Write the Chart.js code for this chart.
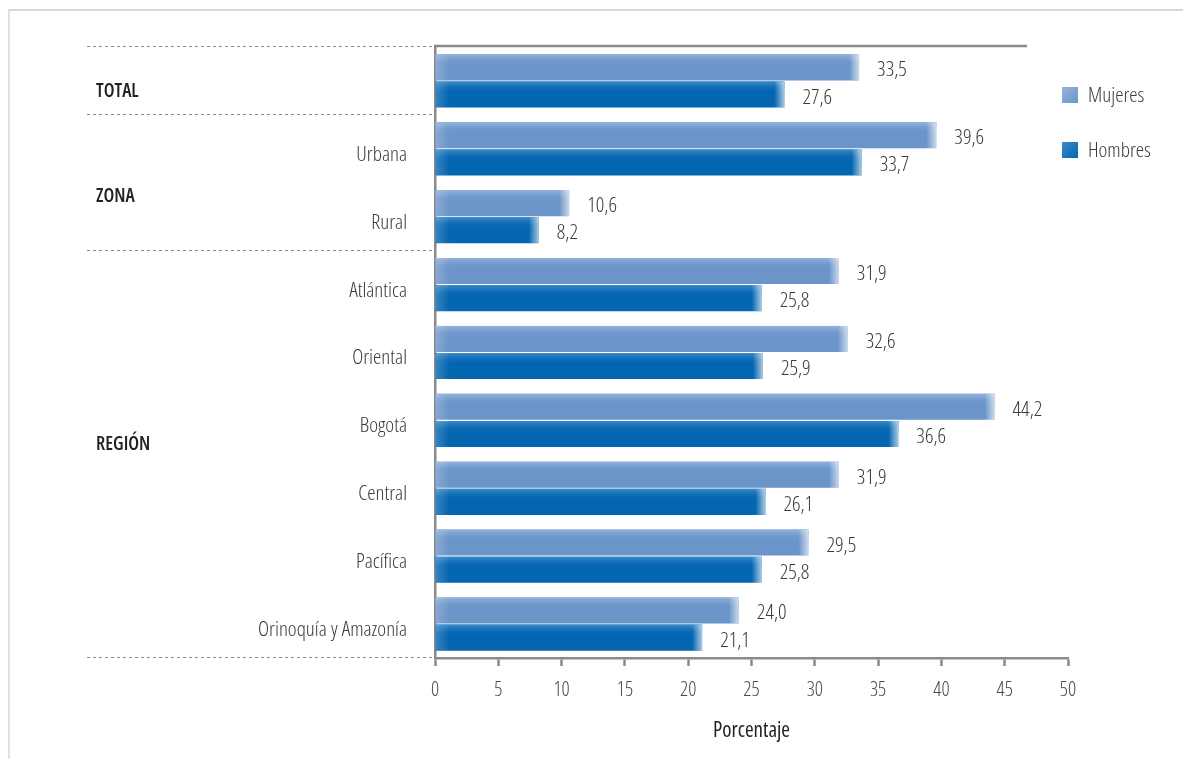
<!DOCTYPE html>
<html lang="es">
<head>
<meta charset="utf-8">
<title>Porcentaje por zona y región</title>
<script src="https://cdn.jsdelivr.net/npm/chart.js@4.4.1/dist/chart.umd.min.js"></script>
<style>
  html, body { margin: 0; padding: 0; background: #fff; }
  #wrap { position: relative; width: 1183px; height: 759px; overflow: hidden; }
  #frame { position: absolute; left: 8px; top: 9px; right: 0; bottom: 0;
           border-left: 2px solid #e2e2e2; border-top: 2px solid #d8d8d8; }
  #chart { position: absolute; left: 0; top: 0; }
</style>
</head>
<body>
<div id="wrap">
  <div id="frame"></div>
  <canvas id="chart" width="1183" height="759"></canvas>
</div>
<script>
// Chart data
const categories = ['TOTAL', 'Urbana', 'Rural', 'Atlántica', 'Oriental', 'Bogotá', 'Central', 'Pacífica', 'Orinoquía y Amazonía'];
const mujeres = [33.5, 39.6, 10.6, 31.9, 32.6, 44.2, 31.9, 29.5, 24.0];
const hombres = [27.6, 33.7, 8.2, 25.8, 25.9, 36.6, 26.1, 25.8, 21.1];
const xTicks = [0, 5, 10, 15, 20, 25, 30, 35, 40, 45, 50];
const seriesNames = ['Mujeres', 'Hombres'];

// Group labels on the left, with the category index they sit at
const groupNames = ['TOTAL', 'ZONA', 'REGIÓN'];
const groupAt = [0.15, 1.7, 5.35];
// Dashed separators sit after these category indexes
const separatorsAfter = [-1, 0, 2, 8];

// Condensed look: 'condensed' goes into the font shorthand through the weight slot
const FONT = "'Open Sans', 'Roboto', sans-serif";
const LIGHT = '300 condensed';
const axisGray = '#8a8a8a';
const textGray = '#3a3a3a';

const colors = {
  mujeres: { body: '#6b94c8', top: '#93b3dd' },
  hombres: { body: '#0465b0', top: '#3b8bca' }
};

const fmt = v => v.toFixed(1).replace('.', ',');

// Shading on each bar: lighter top edge and a pale right tip
const barShading = {
  id: 'barShading',
  afterDatasetsDraw(chart) {
    const ctx = chart.ctx;
    chart.data.datasets.forEach((ds, di) => {
      const meta = chart.getDatasetMeta(di);
      const c = di === 0 ? colors.mujeres : colors.hombres;
      meta.data.forEach(el => {
        const { x, y, base, height } = el.getProps(['x', 'y', 'base', 'height'], true);
        const top = y - height / 2;
        ctx.save();
        const vg = ctx.createLinearGradient(0, top, 0, top + height * 0.45);
        vg.addColorStop(0, c.top);
        vg.addColorStop(1, c.body + '00');
        ctx.fillStyle = vg;
        ctx.fillRect(base, top, x - base, height * 0.45);

        const tip = Math.min(10, x - base);
        const hg = ctx.createLinearGradient(x - tip, 0, x, 0);
        hg.addColorStop(0, 'rgba(255,255,255,0)');
        hg.addColorStop(1, 'rgba(255,255,255,0.65)');
        ctx.fillStyle = hg;
        ctx.fillRect(x - tip, top, tip, height);

        const lg = ctx.createLinearGradient(base, 0, base + 14, 0);
        lg.addColorStop(0, 'rgba(255,255,255,0.2)');
        lg.addColorStop(1, 'rgba(255,255,255,0)');
        ctx.fillStyle = lg;
        ctx.fillRect(base, top, 14, height);
        ctx.restore();
      });
    });
  }
};

// Values, separators, group labels, top line and legend
const decorations = {
  id: 'decorations',
  afterDraw(chart) {
    const ctx = chart.ctx;
    const yScale = chart.scales.y;
    const area = chart.chartArea;
    const slot = (area.bottom - area.top) / categories.length;

    ctx.save();
    // value labels
    ctx.font = `${LIGHT} 21px ${FONT}`;
    ctx.fillStyle = textGray;
    ctx.textAlign = 'left';
    ctx.textBaseline = 'middle';
    chart.data.datasets.forEach((ds, di) => {
      chart.getDatasetMeta(di).data.forEach((el, i) => {
        ctx.fillText(fmt(ds.data[i]), el.x + 18, el.y + 3);
      });
    });

    // dashed separators
    ctx.strokeStyle = '#8c8c8c';
    ctx.lineWidth = 1;
    ctx.setLineDash([3, 3]);
    separatorsAfter.forEach(i => {
      const yy = Math.round(yScale.getPixelForValue(i) + slot / 2) - 0.5;
      ctx.beginPath();
      ctx.moveTo(87, yy);
      ctx.lineTo(area.left - 3, yy);
      ctx.stroke();
    });
    ctx.setLineDash([]);

    // top frame line
    ctx.strokeStyle = axisGray;
    ctx.lineWidth = 2.5;
    ctx.beginPath();
    ctx.moveTo(area.left - 1, area.top - 1);
    ctx.lineTo(1027, area.top - 1);
    ctx.stroke();

    // group labels
    ctx.font = `600 condensed 19px ${FONT}`;
    ctx.fillStyle = '#222';
    groupNames.forEach((g, i) => {
      ctx.fillText(g, 96, yScale.getPixelForValue(groupAt[i]));
    });

    // legend
    const legendY = [95, 150];
    seriesNames.forEach((name, i) => {
      const c = i === 0 ? colors.mujeres : colors.hombres;
      const sx = 1062, sy = legendY[i] - 8;
      const g = ctx.createLinearGradient(sx, sy, sx + 16, sy + 16);
      g.addColorStop(0, c.top);
      g.addColorStop(1, c.body);
      ctx.fillStyle = g;
      ctx.fillRect(sx, sy, 16, 16);
      ctx.font = `${LIGHT} 21px ${FONT}`;
      ctx.fillStyle = textGray;
      ctx.fillText(name, 1088, legendY[i] + 1);
    });
    ctx.restore();
  }
};

document.addEventListener('DOMContentLoaded', () => {
  const ctx = document.getElementById('chart').getContext('2d');

  new Chart(ctx, {
    type: 'bar',
    data: {
      labels: categories,
      datasets: [
        {
          label: seriesNames[0],
          data: mujeres,
          backgroundColor: colors.mujeres.body,
          borderWidth: 0,
          categoryPercentage: 0.8,
          barPercentage: 0.96
        },
        {
          label: seriesNames[1],
          data: hombres,
          backgroundColor: colors.hombres.body,
          borderWidth: 0,
          categoryPercentage: 0.8,
          barPercentage: 0.96
        }
      ]
    },
    options: {
      indexAxis: 'y',
      responsive: false,
      animation: false,
      layout: { padding: { top: 47, right: 115, bottom: 0, left: 0 } },
      plugins: {
        legend: { display: false },
        tooltip: { enabled: false }
      },
      scales: {
        x: {
          min: 0,
          max: 50,
          afterBuildTicks: scale => { scale.ticks = xTicks.map(v => ({ value: v })); },
          afterFit: scale => { scale.height = 101; },
          grid: {
            drawOnChartArea: false,
            drawTicks: true,
            tickLength: 8,
            tickColor: axisGray,
            tickWidth: 2.5
          },
          border: { display: true, color: axisGray, width: 2.5 },
          ticks: {
            color: '#4a4a4a',
            padding: 12,
            maxRotation: 0,
            font: { family: FONT, size: 20, weight: LIGHT }
          },
          title: {
            display: true,
            text: 'Porcentaje',
            color: '#222',
            padding: { top: 0, bottom: 15 },
            font: { family: FONT, size: 21, weight: 'condensed' }
          }
        },
        y: {
          afterFit: scale => { scale.width = 435; },
          grid: { display: false, drawTicks: false },
          border: { display: true, color: axisGray, width: 2.5 },
          ticks: {
            color: textGray,
            padding: 28,
            labelOffset: 6,
            font: { family: FONT, size: 21, weight: LIGHT },
            callback: (value, index) => index === 0 ? '' : categories[index]
          }
        }
      }
    },
    plugins: [barShading, decorations]
  });
});
</script>
</body>
</html>
